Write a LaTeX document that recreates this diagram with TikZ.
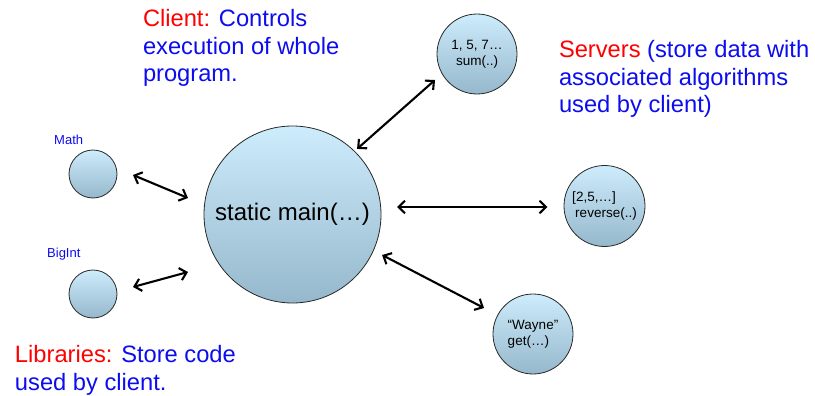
\documentclass[tikz,border=0pt]{standalone}
\usepackage{fontspec}
\setmainfont{Liberation Sans}
\usetikzlibrary{arrows.meta,calc}

\definecolor{capred}{RGB}{255,0,0}
\definecolor{capblue}{RGB}{12,12,240}
\definecolor{ballTop}{RGB}{205,236,252}
\definecolor{ballBot}{RGB}{150,184,204}
\definecolor{ballEdge}{RGB}{40,40,40}

\tikzset{
  ball/.style={circle, draw=ballEdge, line width=0.8pt, inner sep=0pt, outer sep=0pt,
    top color=ballTop, bottom color=ballBot, text=black},
  smalltext/.style={font=\fontsize{13.5}{16}\selectfont, align=left},
  caption/.style={anchor=base west, inner sep=0pt, outer sep=0pt, align=left,
    font=\fontsize{23.7}{27.5}\selectfont, text=capblue},
  liblabel/.style={anchor=base west, inner sep=0pt, font=\fontsize{13}{15}\selectfont, text=capblue},
  link/.style={line width=2.1pt, black,
    {Straight Barb[length=6.5pt,width=12.5pt]}-{Straight Barb[length=6.5pt,width=12.5pt]}}
}

\begin{document}
\begin{tikzpicture}[x=1pt,y=-1pt]
\useasboundingbox (0,0) rectangle (815,396);

% client (main program)
\node[ball, minimum size=177pt, font=\fontsize{24}{28}\selectfont] (main) at (292.5,214.5) {static main(…)};

% libraries
\node[ball, minimum size=48pt] (math) at (93,174) {};
\node[ball, minimum size=48pt] (bigint) at (93,294) {};
\node[liblabel] (mathlbl) at (54,145) {Math};
\node[liblabel] (bigintlbl) at (47,257) {BigInt};

% servers
\node[ball, minimum size=80pt, smalltext, align=center] (sum) at (477,54) {1, 5, 7…\\sum(..)};
\node[ball, minimum size=81pt, smalltext] (rev) at (604.5,206) {[2,5,…]\\\hspace{3pt}reverse(..)};
\node[ball, minimum size=80pt, smalltext] (wayne) at (533,334) {“Wayne”\\get(…)};

% connectors
\draw[link] ([shift={(16,1)}]math.east) -- ([shift={(-16,-16.5)}]main.west);
\draw[link] ([shift={(16,-7)}]bigint.east) -- ([shift={(-16,57.5)}]main.west);
\draw[link] ([shift={(2,-3)}]main.north east) -- ([shift={(-13.7,-2.3)}]sum.south west);
\draw[link] ([shift={(16,-7.5)}]main.east) -- ([shift={(-16.5,1)}]rev.west);
\draw[link] ([shift={(13,-3.75)}]main.-30) -- ([shift={(-20.7,2.3)}]wayne.north west);

% captions (anchored at the baseline of their last line)
\node[caption] (clientcap) at (143,82) {\textcolor{capred}{Client:} Controls\\execution of whole\\program.};
\node[caption] (servercap) at (559,113) {\textcolor{capred}{Servers} (store data with\\associated algorithms\\used by client)};
\node[caption] (libcap) at (15,390) {\textcolor{capred}{Libraries:} Store code\\used by client.};
\end{tikzpicture}
\end{document}
